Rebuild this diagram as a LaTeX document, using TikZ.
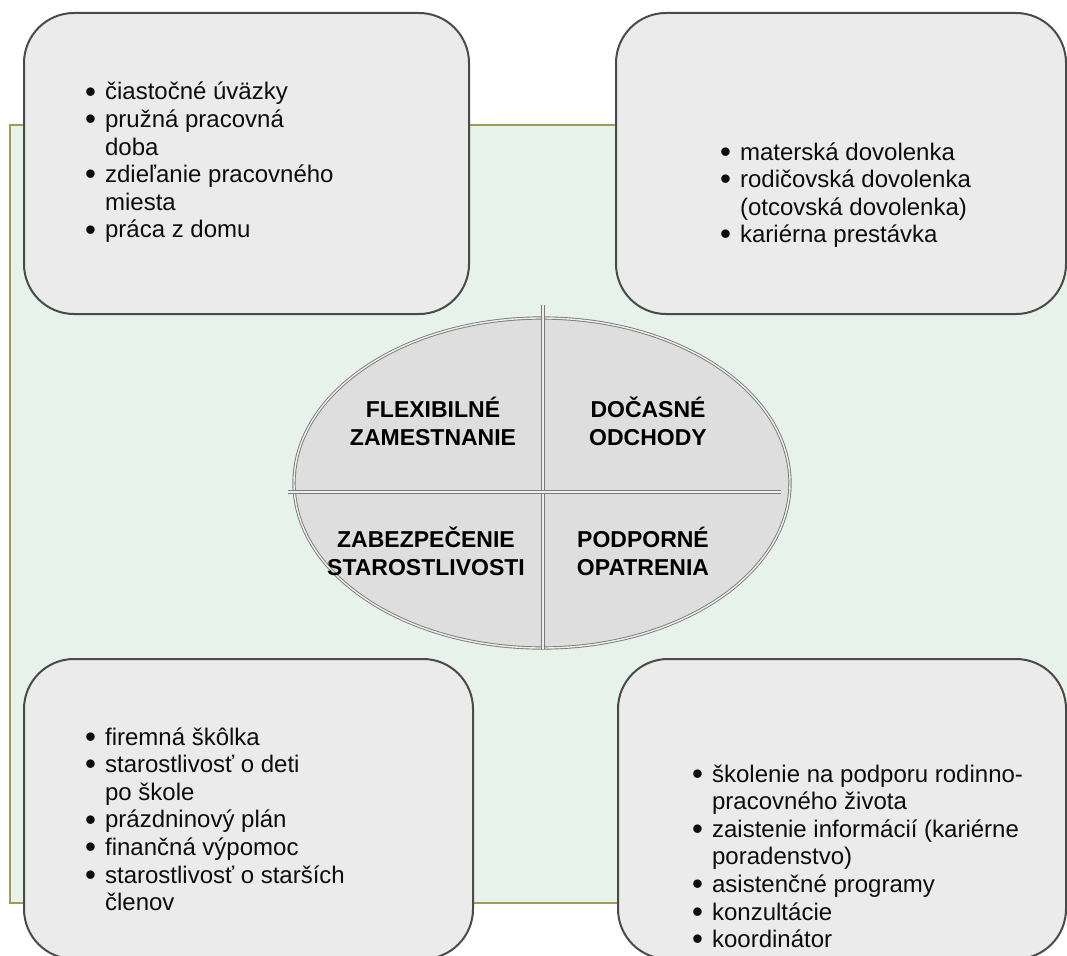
\documentclass[tikz,border=0pt]{standalone}
\usepackage{fontspec}
\setmainfont{Liberation Sans}
\usetikzlibrary{shapes.geometric}

\definecolor{bgfill}{HTML}{E7F2EA}
\definecolor{bgline}{HTML}{A09C58}
\definecolor{boxfill}{HTML}{EBEBEB}
\definecolor{boxline}{HTML}{4A4A4A}
\definecolor{ovalfill}{HTML}{DEDEDE}
\definecolor{ovalline}{HTML}{7A7A7A}

\tikzset{
  listbox/.style={draw=boxline, line width=2pt, fill=boxfill, rounded corners=50pt, anchor=north west, inner sep=0pt},
  listtext/.style={anchor=base west, inner sep=0pt, text=black!95, font=\fontsize{24}{27.6}\selectfont},
  quarter/.style={align=center, inner sep=0pt, text=black, font=\bfseries\fontsize{23}{28}\selectfont},
  splitline/.style={draw=ovalline, line width=0.9pt, double=ovalfill!50, double distance=1.4pt}
}

\newcommand{\bulletlist}[1]{\begin{tabular}[t]{@{}l@{\hspace{9pt}}l@{}}#1\end{tabular}}
\newcommand{\dotmark}{\smash{\raisebox{-2.2pt}{\scalebox{1.3}{•}}}}

\begin{document}
\begin{tikzpicture}[x=1pt, y=-1pt]

  \useasboundingbox (0,0) rectangle (1067,955);
  \clip (0,0) rectangle (1067,955);

  \draw[line width=1.6pt, draw=bgline, fill=bgfill] (10,125) rectangle (1090,903);

 \node[listbox, minimum width=445pt, minimum height=301pt] at (23,12)  (flexbox) {};
 \node[listbox, minimum width=450pt, minimum height=301pt] at (615,12) (leavebox) {};
 \node[listbox, minimum width=449pt, minimum height=300pt] at (23,658) (carebox) {};
 \node[listbox, minimum width=448pt, minimum height=300pt] at (617,658) (supportbox) {};

 \node[listtext] at (85,100) (flexlist) {\bulletlist{%
   \dotmark & čiastočné úväzky\\
   \dotmark & pružná pracovná\\
     & doba\\
   \dotmark & zdieľanie pracovného\\
     & miesta\\
   \dotmark & práca z domu}};

 \node[listtext] at (720,160) (leavelist) {\bulletlist{%
   \dotmark & materská dovolenka\\
   \dotmark & rodičovská dovolenka\\
     & (otcovská dovolenka)\\
   \dotmark & kariérna prestávka}};

 \node[listtext] at (85,745) (carelist) {\bulletlist{%
   \dotmark & firemná škôlka\\
   \dotmark & starostlivosť o deti\\
     & po škole\\
   \dotmark & prázdninový plán\\
   \dotmark & finančná výpomoc\\
   \dotmark & starostlivosť o starších\\
     & členov}};

 \node[listtext] at (692,782) (supportlist) {\bulletlist{%
   \dotmark & školenie na podporu rodinno-\\
     & pracovného života\\
   \dotmark & zaistenie informácií (kariérne\\
     & poradenstvo)\\
   \dotmark & asistenčné programy\\
   \dotmark & konzultácie\\
   \dotmark & koordinátor}};

 \node[ellipse, draw=ovalline, line width=0.9pt, double=ovalfill!50, double distance=1.4pt, fill=ovalfill, minimum width=496pt, minimum height=330pt, inner sep=0pt] at (542,483) (oval) {};

 \coordinate (vtop) at (543,305);
 \coordinate (vbottom) at (543,649);
 \coordinate (hleft) at (288,492);
 \coordinate (hright) at (781,492);
 \draw[splitline] (vtop)--(vbottom);
 \draw[splitline] (hleft)--(hright);

 \node[quarter] at (433,421) (flex) {FLEXIBILNÉ\\ZAMESTNANIE};
 \node[quarter] at (648,421) (leave) {DOČASNÉ\\ODCHODY};
 \node[quarter] at (426,551) (care) {ZABEZPEČENIE\\STAROSTLIVOSTI};
 \node[quarter] at (643,551) (support) {PODPORNÉ\\OPATRENIA};

\end{tikzpicture}
\end{document}
